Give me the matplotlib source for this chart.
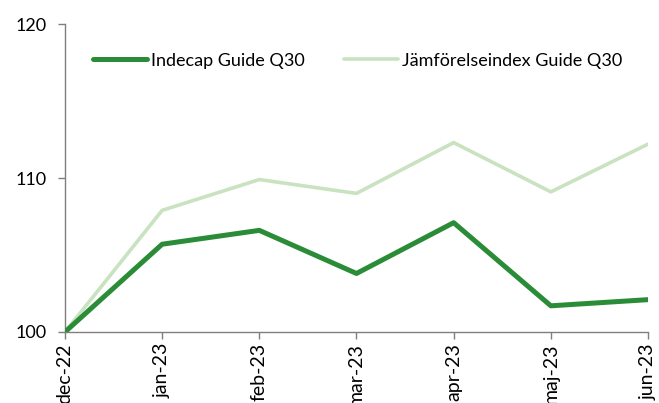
import matplotlib.pyplot as plt
import numpy as np

plt.rcParams['font.family'] = ['Lato', 'DejaVu Sans']

# data
months = ['dec-22', 'jan-23', 'feb-23', 'mar-23', 'apr-23', 'maj-23', 'jun-23']
indecap = [100.0, 105.7, 106.6, 103.8, 107.1, 101.7, 102.1]
benchmark = [100.0, 107.9, 109.9, 109.0, 112.3, 109.1, 112.2]

fig = plt.figure(figsize=(6.59, 4.03), dpi=100)
ax = fig.add_axes([0.0986, 0.1762, 0.8847, 0.7642])

x = np.arange(len(months))
ax.plot(x, indecap, color='#2b8c38', lw=3.6, solid_capstyle='round',
        label='Indecap Guide Q30', zorder=3)
ax.plot(x, benchmark, color='#c9e2c0', lw=2.6, solid_capstyle='round',
        label='Jämförelseindex Guide Q30', zorder=2)

ax.set_xlim(0, len(months) - 1)
ax.set_ylim(100, 120)
ax.set_yticks([100, 110, 120])
ax.set_xticks(x)
ax.set_xticklabels(months, rotation=90)

for s in ['top', 'right']:
    ax.spines[s].set_visible(False)
for s in ['left', 'bottom']:
    ax.spines[s].set_color('#7f7f7f')
    ax.spines[s].set_linewidth(1.0)
ax.tick_params(axis='both', colors='#7f7f7f', labelcolor='black',
               labelsize=13, length=5, width=1.0)
ax.tick_params(axis='x', labelsize=14, pad=3)
ax.tick_params(axis='y', pad=8)

# x labels are clipped at the bottom edge, as in the original
ax.legend(loc='upper left', bbox_to_anchor=(0.02, 0.96), ncol=2,
          frameon=False, fontsize=13, handlelength=3.0, handletextpad=0.2,
          columnspacing=2.2)

fig.savefig('out.png', dpi=100)
